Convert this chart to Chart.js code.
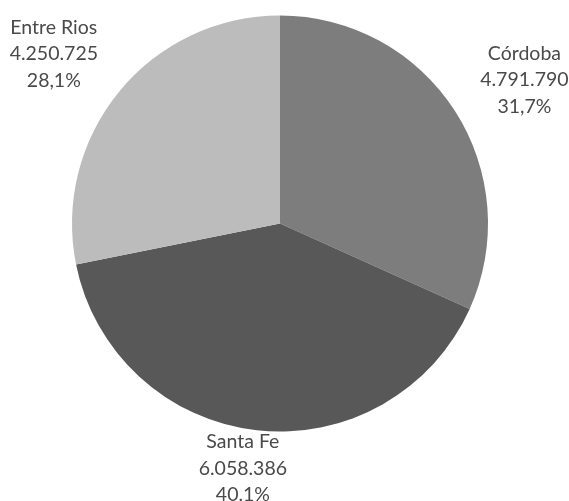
<!DOCTYPE html>
<html>
<head>
<meta charset="utf-8">
<script src="https://cdn.jsdelivr.net/npm/chart.js@4"></script>
<style>
  html, body { margin: 0; padding: 0; background: #ffffff; }
  #wrap { width: 569px; height: 501px; }
</style>
</head>
<body>
<div id="wrap"><canvas id="c" width="569" height="501"></canvas></div>
<script>
const categories = ["Córdoba", "Santa Fe", "Entre Rios"];
const values = [4791790, 6058386, 4250725];
const valueLabels = ["4.791.790", "6.058.386", "4.250.725"];
const percentLabels = ["31,7%", "40,1%", "28,1%"];
const colors = ["#7d7d7d", "#585858", "#bcbcbc"];

const labelPlugin = {
  id: 'outsideLabels',
  afterDatasetsDraw(chart) {
    const ctx = chart.ctx;
    const meta = chart.getDatasetMeta(0);
    const fontSize = 19.5;
    const lineH = 26.5;
    const pad = 16;
    ctx.save();
    ctx.font = fontSize + 'px Lato, "Open Sans", sans-serif';
    ctx.fillStyle = '#4a4a4a';
    ctx.textAlign = 'center';
    ctx.textBaseline = 'middle';
    meta.data.forEach((arc, i) => {
      const p = arc.getProps(['x', 'y', 'startAngle', 'endAngle', 'outerRadius'], true);
      const mid = (p.startAngle + p.endAngle) / 2;
      const dx = Math.cos(mid), dy = Math.sin(mid);
      const lines = [categories[i], valueLabels[i], percentLabels[i]];
      const w = Math.max(...lines.map(t => ctx.measureText(t).width));
      const h = lines.length * lineH;
      const ext = Math.abs(dx) * w / 2 + Math.abs(dy) * h / 2;
      const r = p.outerRadius + pad + ext;
      let cx = p.x + dx * r + Math.sign(dx) * 7;
      let cy = p.y + dy * r + 10;
      const maxBottom = chart.height + 7;
      if (cy + h / 2 > maxBottom) cy = maxBottom - h / 2;
      if (cx + w / 2 > chart.width) cx = chart.width - w / 2;
      if (cx - w / 2 < 0) cx = w / 2;
      lines.forEach((t, k) => {
        ctx.fillText(t, cx, cy - h / 2 + lineH * (k + 0.5));
      });
    });
    ctx.restore();
  }
};

new Chart(document.getElementById('c'), {
  type: 'pie',
  data: {
    labels: categories,
    datasets: [{
      data: values,
      backgroundColor: colors,
      borderWidth: 0
    }]
  },
  options: {
    responsive: false,
    animation: false,
    layout: { padding: { top: 15, bottom: 69, left: 72, right: 81 } },
    plugins: {
      legend: { display: false },
      tooltip: { enabled: false }
    }
  },
  plugins: [labelPlugin]
});
</script>
</body>
</html>
